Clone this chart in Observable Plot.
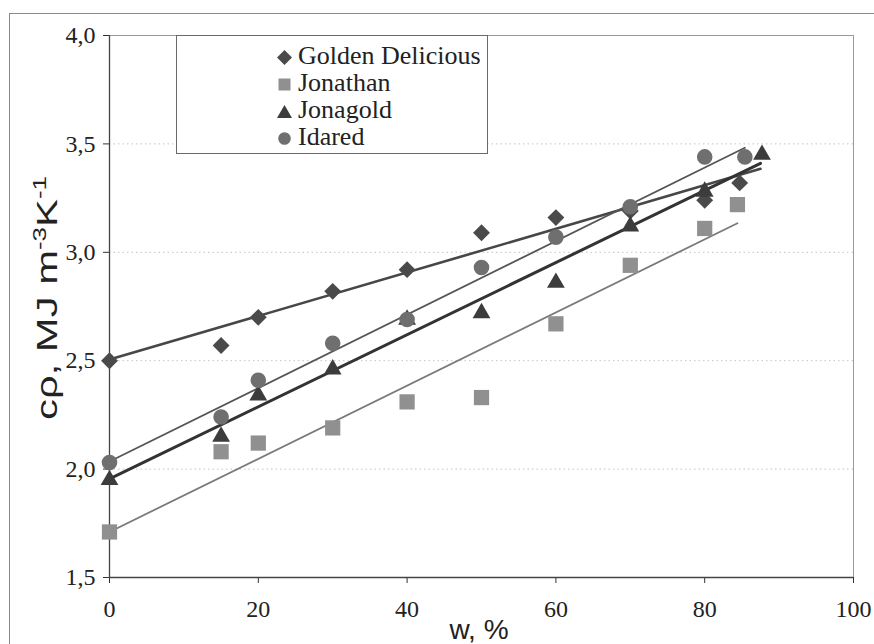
<!DOCTYPE html>
<html>
<head>
<meta charset="utf-8">
<script src="https://cdn.jsdelivr.net/npm/d3@7"></script>
<script src="https://cdn.jsdelivr.net/npm/@observablehq/plot@0.6"></script>
<style>
  html, body { margin: 0; padding: 0; background: #fff; overflow: hidden; }
  #wrap { position: relative; width: 874px; height: 644px; }
  #border { position: absolute; left: 9px; top: 13px; width: 900px; height: 700px;
            border-left: 1px solid #8a8a8a; border-top: 1px solid #8a8a8a; }
  #legend { position: absolute; left: 176px; top: 35px; width: 310px; height: 117px;
            border: 1px solid #6a6a6a; background: #fff;
            font-family: "Liberation Serif", "Times New Roman", Times, "DejaVu Serif", serif; font-size: 26px; color: #222; }
  .lrow { position: absolute; left: 0; height: 26px; width: 100%; }
  .lrow svg { position: absolute; left: 100px; top: 6px; }
  .lrow span { position: absolute; left: 121px; top: -1px; line-height: 26px; white-space: nowrap; }
</style>
</head>
<body>
<div id="wrap">
  <div id="border"></div>
  <div id="chart"></div>
  <div id="legend"></div>
</div>
<script>
// ---- data ----
const seriesNames = ["Golden Delicious", "Jonathan", "Jonagold", "Idared"];

const wGolden    = [0, 15, 20, 30, 40, 50, 60, 70, 80, 84.7];
const cpGolden   = [2.50, 2.57, 2.70, 2.82, 2.92, 3.09, 3.16, 3.19, 3.24, 3.32];

const wJonathan  = [0, 15, 20, 30, 40, 50, 60, 70, 80, 84.4];
const cpJonathan = [1.71, 2.08, 2.12, 2.19, 2.31, 2.33, 2.67, 2.94, 3.11, 3.22];

const wJonagold  = [0, 15, 20, 30, 40, 50, 60, 70, 80, 87.7];
const cpJonagold = [1.95, 2.15, 2.34, 2.46, 2.69, 2.72, 2.86, 3.12, 3.28, 3.45];

const wIdared    = [0, 15, 20, 30, 40, 50, 60, 70, 80, 85.4];
const cpIdared   = [2.03, 2.24, 2.41, 2.58, 2.69, 2.93, 3.07, 3.21, 3.44, 3.44];

// trend lines (end points)
const trendStartW  = [0, 0, 0, 0];
const trendStartCp = [2.505, 1.71, 1.955, 2.035];
const trendEndW    = [87.5, 84.4, 87.5, 85.4];
const trendEndCp   = [3.385, 3.134, 3.41, 3.482];

const xTicks = [0, 20, 40, 60, 80, 100];
const yTicks = [1.5, 2.0, 2.5, 3.0, 3.5, 4.0];
const yGrid  = [2.0, 2.5, 3.0, 3.5];

// ---- styles ----
const symbols     = ["diamond2", "square", "triangle", "circle"];
const fills       = ["#4a4a4a", "#909090", "#3c3c3c", "#6f6f6f"];
const radii       = [7.6, 8.6, 6.6, 7.8];
const lineColors  = ["#474747", "#7a7a7a", "#333333", "#555555"];
const lineWidths  = [2.6, 1.8, 3.0, 1.8];

// ---- build tables ----
const wArr  = [wGolden, wJonathan, wJonagold, wIdared];
const cpArr = [cpGolden, cpJonathan, cpJonagold, cpIdared];
const points = seriesNames.map((s, i) => wArr[i].map((w, j) => ({series: s, w, cp: cpArr[i][j]})));
const trends = seriesNames.map((s, i) => [
  {series: s, w: trendStartW[i], cp: trendStartCp[i]},
  {series: s, w: trendEndW[i],   cp: trendEndCp[i]}
]);

const fmt = d => d.toFixed(1).replace(".", ",");
const serif = "\"Liberation Serif\", \"Times New Roman\", Times, \"DejaVu Serif\", serif";
const sans = "\"Liberation Sans\", Arial, Helvetica, sans-serif";

const marks = [
  Plot.ruleY(yGrid, {stroke: "#c4c4c4", strokeDasharray: "1.5,3", strokeWidth: 1}),
  Plot.frame({stroke: "#9a9a9a"}),
  Plot.axisY({ticks: yTicks, tickFormat: fmt, tickSize: 6, tickPadding: 8, label: null, stroke: "#333"}),
  Plot.axisX({ticks: xTicks, tickSize: 6, tickPadding: 16, label: null, stroke: "#333"}),
  Plot.ruleX([0], {stroke: "#444", strokeWidth: 1.3}),
  Plot.ruleY([1.5], {stroke: "#444", strokeWidth: 1.3})
];
trends.forEach((t, i) => marks.push(Plot.line(t, {x: "w", y: "cp", stroke: lineColors[i], strokeWidth: lineWidths[i]})));
points.forEach((p, i) => marks.push(Plot.dot(p, {x: "w", y: "cp", symbol: () => symbols[i], fill: fills[i], r: radii[i], stroke: "none"})));

const chart = Plot.plot({
  width: 874, height: 644,
  marginLeft: 109, marginRight: 21, marginTop: 35, marginBottom: 67,
  x: {domain: [0, 100]},
  y: {domain: [1.5, 4.0]},
  symbol: {type: "identity"},
  style: {fontFamily: serif, fontSize: "24px", color: "#222", background: "transparent", overflow: "visible"},
  marks
});
chart.style.position = "absolute";
chart.style.left = "0px";
chart.style.top = "0px";
document.getElementById("chart").appendChild(chart);

const svg = d3.select(chart);
// force serif tick labels
svg.selectAll("text").style("font-family", serif).style("font-size", "24px");

// axis titles
svg.append("text")
  .attr("x", 479).attr("y", 639)
  .attr("text-anchor", "middle")
  .style("font-family", sans)
  .attr("font-size", 28).attr("fill", "#222")
  .text("w, %");

const yl = svg.append("text")
  .attr("transform", "translate(57,298) rotate(-90)")
  .attr("text-anchor", "middle")
  .attr("textLength", 244)
  .attr("lengthAdjust", "spacingAndGlyphs")
  .style("font-family", sans)
  .attr("font-size", 29).attr("fill", "#222");
yl.append("tspan").text("cρ, MJ m");
yl.append("tspan").attr("font-size", 18).attr("dy", -11).text("-3");
yl.append("tspan").attr("dy", 11).text("K");
yl.append("tspan").attr("font-size", 18).attr("dy", -11).text("-1");

// legend
const legend = document.getElementById("legend");
const rowTops = [8, 35, 62, 89];
seriesNames.forEach((s, i) => {
  const row = document.createElement("div");
  row.className = "lrow";
  row.style.top = rowTops[i] + "px";
  const size = 15;
  let shape = "";
  if (symbols[i] === "diamond2") shape = `<polygon points="7.5,0 15,7.5 7.5,15 0,7.5" fill="${fills[i]}"/>`;
  if (symbols[i] === "square") shape = `<rect x="1.5" y="1.5" width="12" height="12" fill="${fills[i]}"/>`;
  if (symbols[i] === "triangle") shape = `<polygon points="7.5,1 15,14 0,14" fill="${fills[i]}"/>`;
  if (symbols[i] === "circle") shape = `<circle cx="7.5" cy="7.5" r="6.3" fill="${fills[i]}"/>`;
  row.innerHTML = `<svg width="${size}" height="${size}">${shape}</svg><span>${s}</span>`;
  legend.appendChild(row);
});
</script>
</body>
</html>
